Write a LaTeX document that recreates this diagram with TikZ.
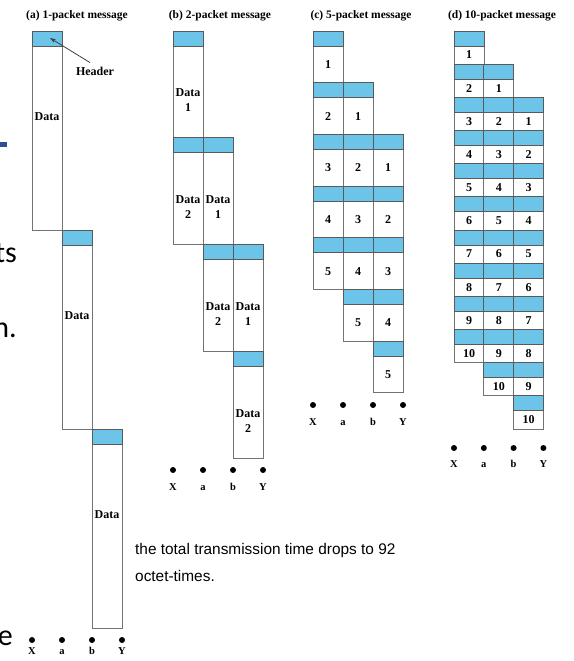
\documentclass[tikz,border=0pt]{standalone}
\usepackage{fontspec}
\setmainfont{Liberation Serif}
\newfontfamily\slidefont{Carlito}
\newfontfamily\bodyfont{Liberation Sans}
\usetikzlibrary{arrows.meta}
\definecolor{hblue}{RGB}{108,196,232}
\definecolor{boxgray}{RGB}{115,115,115}
\definecolor{dashblue}{RGB}{40,80,150}
\tikzset{
  hdrbox/.style={draw=black!65, fill=hblue, line width=0.9pt, minimum width=30pt, inner sep=0pt, outer sep=0pt, anchor=north west},
  databox/.style={draw=boxgray, fill=white, line width=0.9pt, minimum width=30pt, inner sep=0pt, outer sep=0pt, anchor=north west},
  txt/.style={font=\bfseries\fontsize{12}{15}\selectfont, inner sep=0pt, align=center},
  title/.style={font=\bfseries\fontsize{11.5}{13}\selectfont, inner sep=0pt, anchor=base},
  dot/.style={circle, fill=black, minimum size=6pt, inner sep=0pt},
  nodelbl/.style={font=\bfseries\fontsize{10.5}{12}\selectfont, inner sep=0pt, anchor=base},
  slide/.style={font=\slidefont\fontsize{30}{36}\selectfont, inner sep=0pt, anchor=base east},
  note/.style={font=\bodyfont\fontsize{15.4}{27}\selectfont, inner sep=0pt, anchor=base west},
}
% #1 name, #2 x, #3 y top, #4 period, #5 label, #6 label offset
\newcommand{\pkt}[6]{%
  \node[databox, minimum height={#4pt-15pt}] (#1d) at (#2,#3+15) {};
  \node[hdrbox, minimum height=15pt] (#1h) at (#2,#3) {};
  \node[txt] (#1t) at (#2+15,#3+#6) {#5};
}
\begin{document}
\begin{tikzpicture}[x=1pt,y=-1pt]
\useasboundingbox (0,0) rectangle (573,661);

% titles
\node[title] (ta) at (77,19) {(a) 1-packet message};
\node[title] (tb) at (220,19) {(b) 2-packet message};
\node[title] (tc) at (361,19) {(c) 5-packet message};
\node[title] (td) at (502,19) {(d) 10-packet message};

% (a)
\foreach \r in {0,1,2}{
  \pgfmathsetmacro{\yy}{31+\r*199}
  \pgfmathsetmacro{\xx}{32+\r*30}
  \pkt{a\r}{\xx}{\yy}{199}{Data}{86}
}
\node[txt] (hdrlbl) at (95,71) {Header};
\coordinate (hdrtip) at (50,38);
\draw[-{Stealth[length=6pt,width=4pt]}, line width=0.8pt, draw=black!75] ([shift={(-5pt,4pt)}]hdrlbl.north) -- (hdrtip);

% (b)
\foreach \r in {0,...,3}{
  \foreach \j in {0,1,2}{
    \pgfmathtruncatemacro{\p}{\r-\j+1}
    \ifnum\p>0 \ifnum\p<3
      \pgfmathsetmacro{\yy}{31+\r*106.75}
      \pgfmathsetmacro{\xx}{173+\j*30}
      \pkt{b\r\j}{\xx}{\yy}{106.75}{Data\\\p}{69.5}
    \fi\fi
  }
}

% (c)
\foreach \r in {0,...,6}{
  \foreach \j in {0,1,2}{
    \pgfmathtruncatemacro{\p}{\r-\j+1}
    \ifnum\p>0 \ifnum\p<6
      \pgfmathsetmacro{\yy}{31+\r*51.7}
      \pgfmathsetmacro{\xx}{313+\j*30}
      \pkt{c\r\j}{\xx}{\yy}{51.7}{\p}{33.5}
    \fi\fi
  }
}

% (d)
\foreach \r in {0,...,11}{
  \foreach \j in {0,1,2}{
    \pgfmathtruncatemacro{\p}{\r-\j+1}
    \ifnum\p>0 \ifnum\p<11
      \pgfmathsetmacro{\yy}{31+\r*33.17}
      \pgfmathsetmacro{\xx}{454+\j*29.8}
      \pkt{d\r\j}{\xx}{\yy}{33.17}{\p}{24}
    \fi\fi
  }
}

% node dots
\foreach \n/\dx in {X/0,a/1,b/2,Y/3}{
  \node[dot] (aN\n) at (32+\dx*30,640) {};
  \node[nodelbl] (aL\n) at (32+\dx*30,654) {\n};
  \node[dot] (bN\n) at (173+\dx*30,470) {};
  \node[nodelbl] (bL\n) at (173+\dx*30,490) {\n};
  \node[dot] (cN\n) at (313+\dx*30,405) {};
  \node[nodelbl] (cL\n) at (313+\dx*30,425) {\n};
  \node[dot] (dN\n) at (454+\dx*29.8,448) {};
  \node[nodelbl] (dL\n) at (454+\dx*29.8,467) {\n};
}

% slide fragments
\fill[dashblue] (0,142) rectangle (7,147);
\node[slide] (fragts) at (17,262) {ts};
\node[slide] (fragn) at (17,337) {n.};
\node[slide] (frage) at (13,645) {e};
\node[note] (note1) at (135,554) {the total transmission time drops to 92};
\node[note] (note2) at (135,581) {octet-times.};
\end{tikzpicture}
\end{document}
